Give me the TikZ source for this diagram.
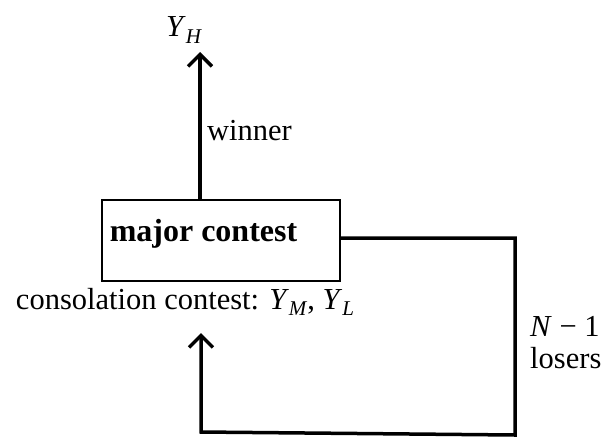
\documentclass[tikz,border=0pt]{standalone}
\usepackage{fontspec}
\setmainfont{Liberation Serif}
\usetikzlibrary{arrows.meta}
\newcommand{\ysub}[2]{\textit{#1}\raisebox{-0.22em}{\fontsize{21}{21}\selectfont\textit{#2}}}
\tikzset{
  txt/.style={inner sep=0pt, font=\fontsize{30.5}{35}\selectfont},
  flow/.style={line width=3.5pt, -{Straight Barb[length=12pt,width=24pt,line width=3.5pt]}},
  boxstyle/.style={draw, line width=1.6pt, minimum width=238pt, minimum height=81pt, inner sep=0pt}
}
\begin{document}
\begin{tikzpicture}[x=1pt,y=-1pt]
\useasboundingbox (0,0) rectangle (609,439);
\node[boxstyle] (box) at (221,240.5) {};
\node[txt, font=\fontsize{32}{36}\selectfont\bfseries] (boxlabel) at (203.5,234) {major contest};
\node[txt] (yh) at (184,30) {\ysub{Y}{H}};
\coordinate (wtop) at (200,52);
\draw[flow] (box.north -| 200,0) -- (wtop);
\node[txt, anchor=west] (winner) at (207,131) {winner};
\node[txt] (cons) at (185,302) {consolation contest: \ysub{Y}{M}, \ysub{Y}{L}};
\node[txt, anchor=west] (nm1) at (530,326) {\textit{N} − 1};
\node[txt, anchor=west] (losers) at (530,358) {losers};
\coordinate (c1) at (515,238);
\coordinate (c2) at (515,435);
\coordinate (c3) at (201,432);
\coordinate (ltop) at (201,333);
\draw[flow, line join=miter] (box.east |- c1) -- (c1) -- (c2) -- (c3) -- (ltop);
\end{tikzpicture}
\end{document}
